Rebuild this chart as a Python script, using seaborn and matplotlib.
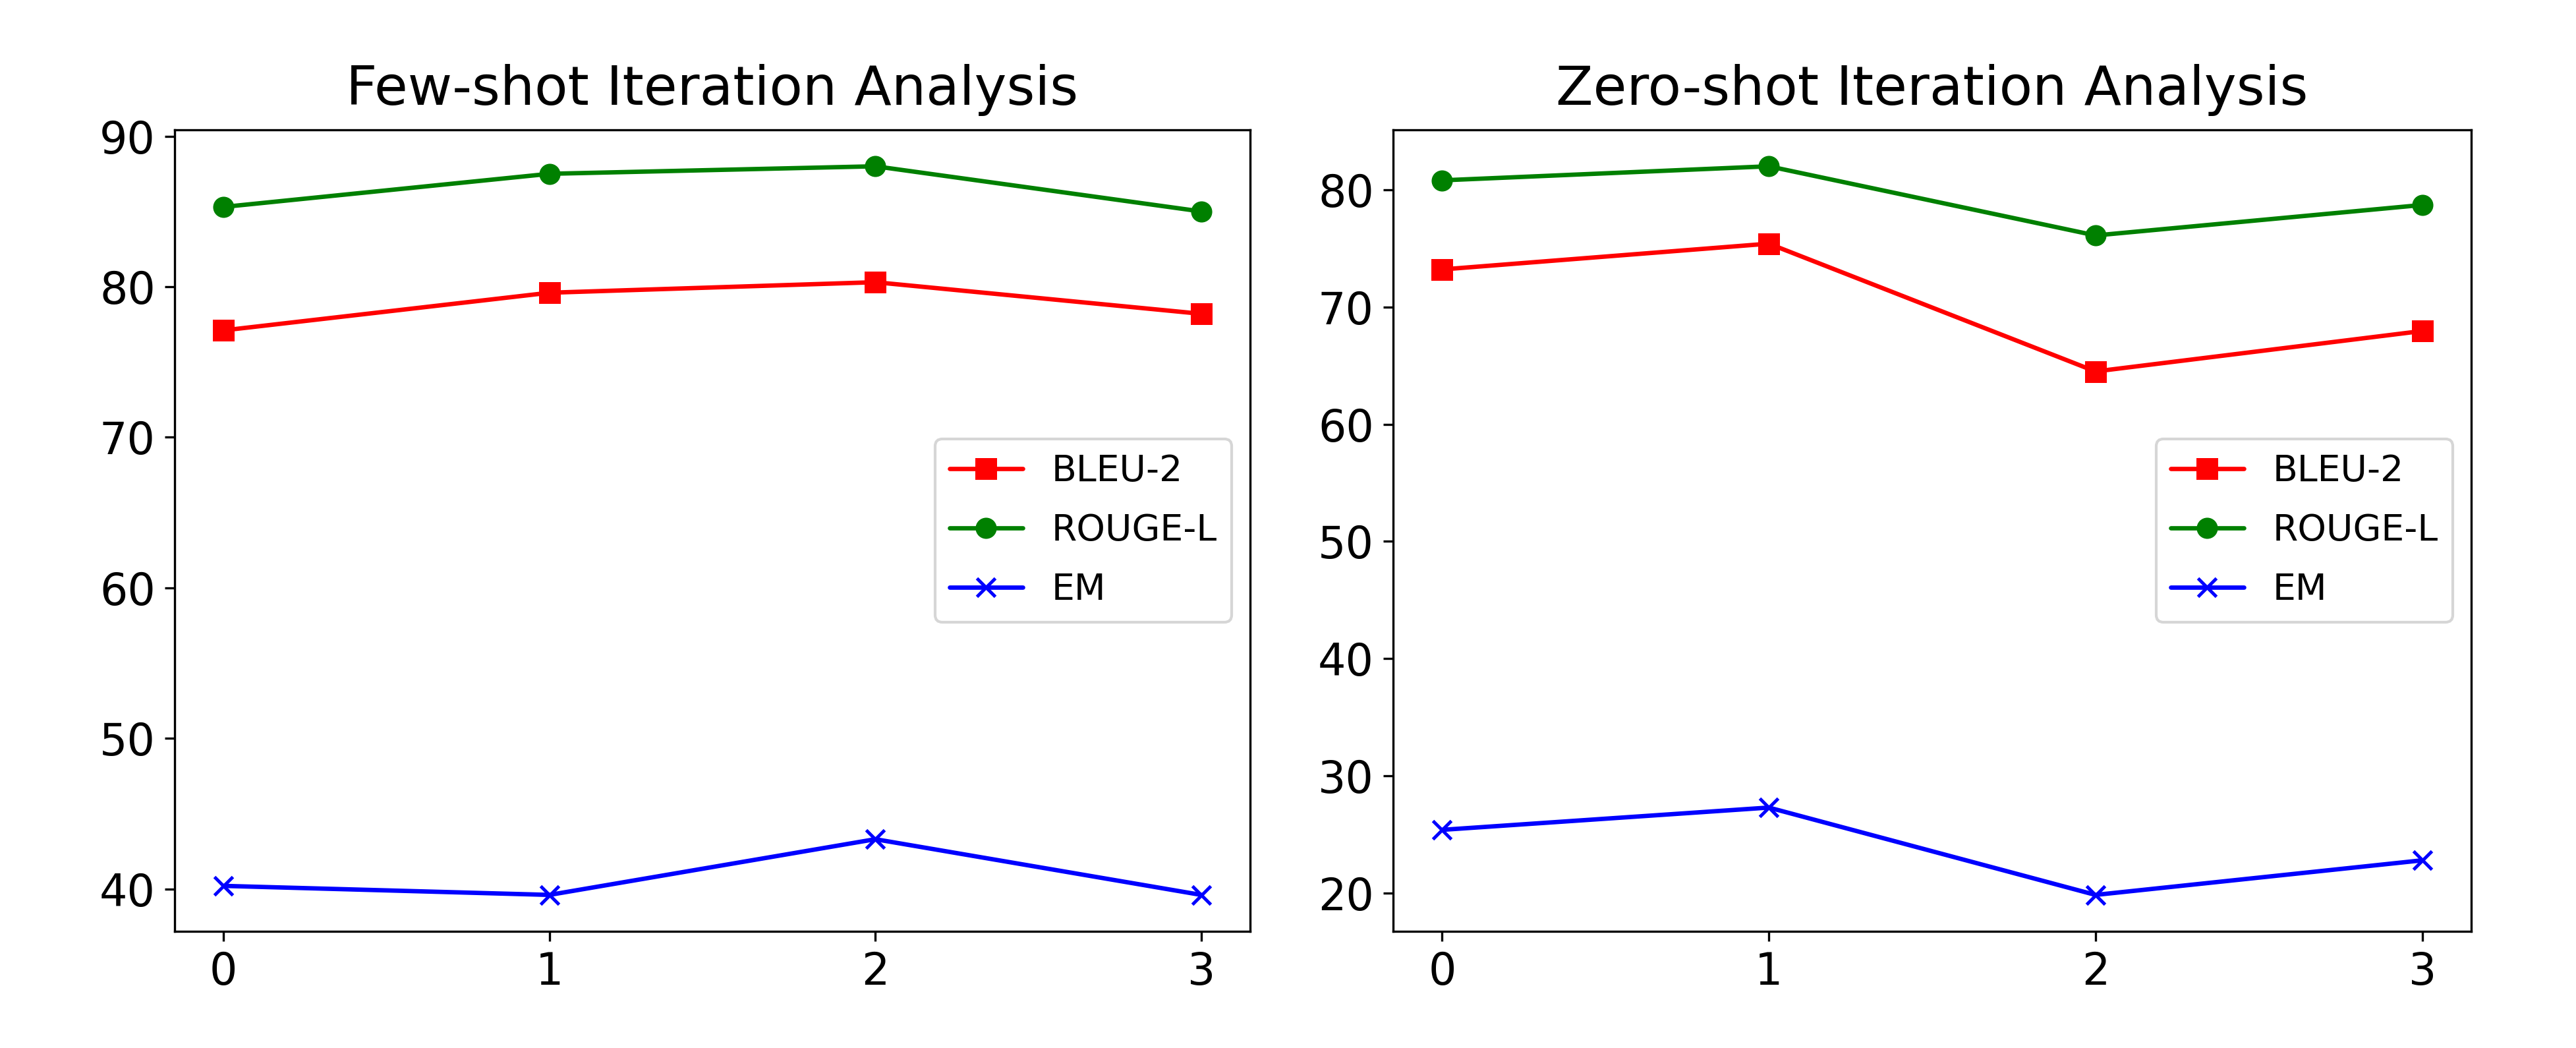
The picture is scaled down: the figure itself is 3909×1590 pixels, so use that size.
import matplotlib
matplotlib.use("Agg")
import matplotlib.pyplot as plt
import seaborn as sns
import pandas as pd

iterations = [0, 1, 2, 3]
metrics = ["BLEU-2", "ROUGE-L", "EM"]

few_bleu2 = [77.1, 79.6, 80.3, 78.2]
few_rougel = [85.3, 87.5, 88.0, 85.0]
few_em = [40.2, 39.6, 43.3, 39.6]

zero_bleu2 = [73.2, 75.4, 64.5, 67.95]
zero_rougel = [80.8, 82.0, 76.1, 78.7]
zero_em = [25.4, 27.3, 19.85, 22.8]

titles = ["Few-shot Iteration Analysis", "Zero-shot Iteration Analysis"]

colors = {"BLEU-2": "red", "ROUGE-L": "green", "EM": "blue"}
markers = {"BLEU-2": "s", "ROUGE-L": "o", "EM": "x"}

sns.set_style("ticks")
plt.rcParams["font.family"] = ["DejaVu Sans"]
plt.rcParams["axes.linewidth"] = 0.8
plt.rcParams["text.color"] = "black"
plt.rcParams["axes.labelcolor"] = "black"
plt.rcParams["xtick.color"] = "black"
plt.rcParams["ytick.color"] = "black"
plt.rcParams["axes.edgecolor"] = "black"

fig = plt.figure(figsize=(3909 / 300, 1590 / 300), dpi=300)
ax1 = fig.add_axes([265 / 3909, 1 - 1413 / 1590, (1897 - 265) / 3909, (1413 - 197) / 1590])
ax2 = fig.add_axes([2114 / 3909, 1 - 1413 / 1590, (3750 - 2114) / 3909, (1413 - 197) / 1590])

panels = [
    (ax1, {"BLEU-2": few_bleu2, "ROUGE-L": few_rougel, "EM": few_em}),
    (ax2, {"BLEU-2": zero_bleu2, "ROUGE-L": zero_rougel, "EM": zero_em}),
]

for (ax, series), title in zip(panels, titles):
    for m in metrics:
        df = pd.DataFrame({"iteration": iterations, "value": series[m]})
        sns.lineplot(data=df, x="iteration", y="value", ax=ax, color=colors[m],
                     marker=markers[m], markersize=6.5, linewidth=1.6,
                     markeredgecolor=colors[m], markeredgewidth=1.2, label=m)
    ax.set_title(title, fontsize=19.8, pad=9, color="black")
    ax.set_xlabel("")
    ax.set_ylabel("")
    ax.set_xticks(iterations)
    ax.tick_params(axis="both", labelsize=16, length=3.5, width=0.8,
                   color="black", labelcolor="black")
    for sp in ax.spines.values():
        sp.set_visible(True)
        sp.set_color("black")
        sp.set_linewidth(0.8)
    ax.grid(False)
    ax.set_facecolor("white")
    leg = ax.legend(loc="center right", fontsize=13.3, frameon=True, labelspacing=0.65)
    for t in leg.get_texts():
        t.set_color("black")

fig.savefig("out.png", dpi=300, facecolor="white")
